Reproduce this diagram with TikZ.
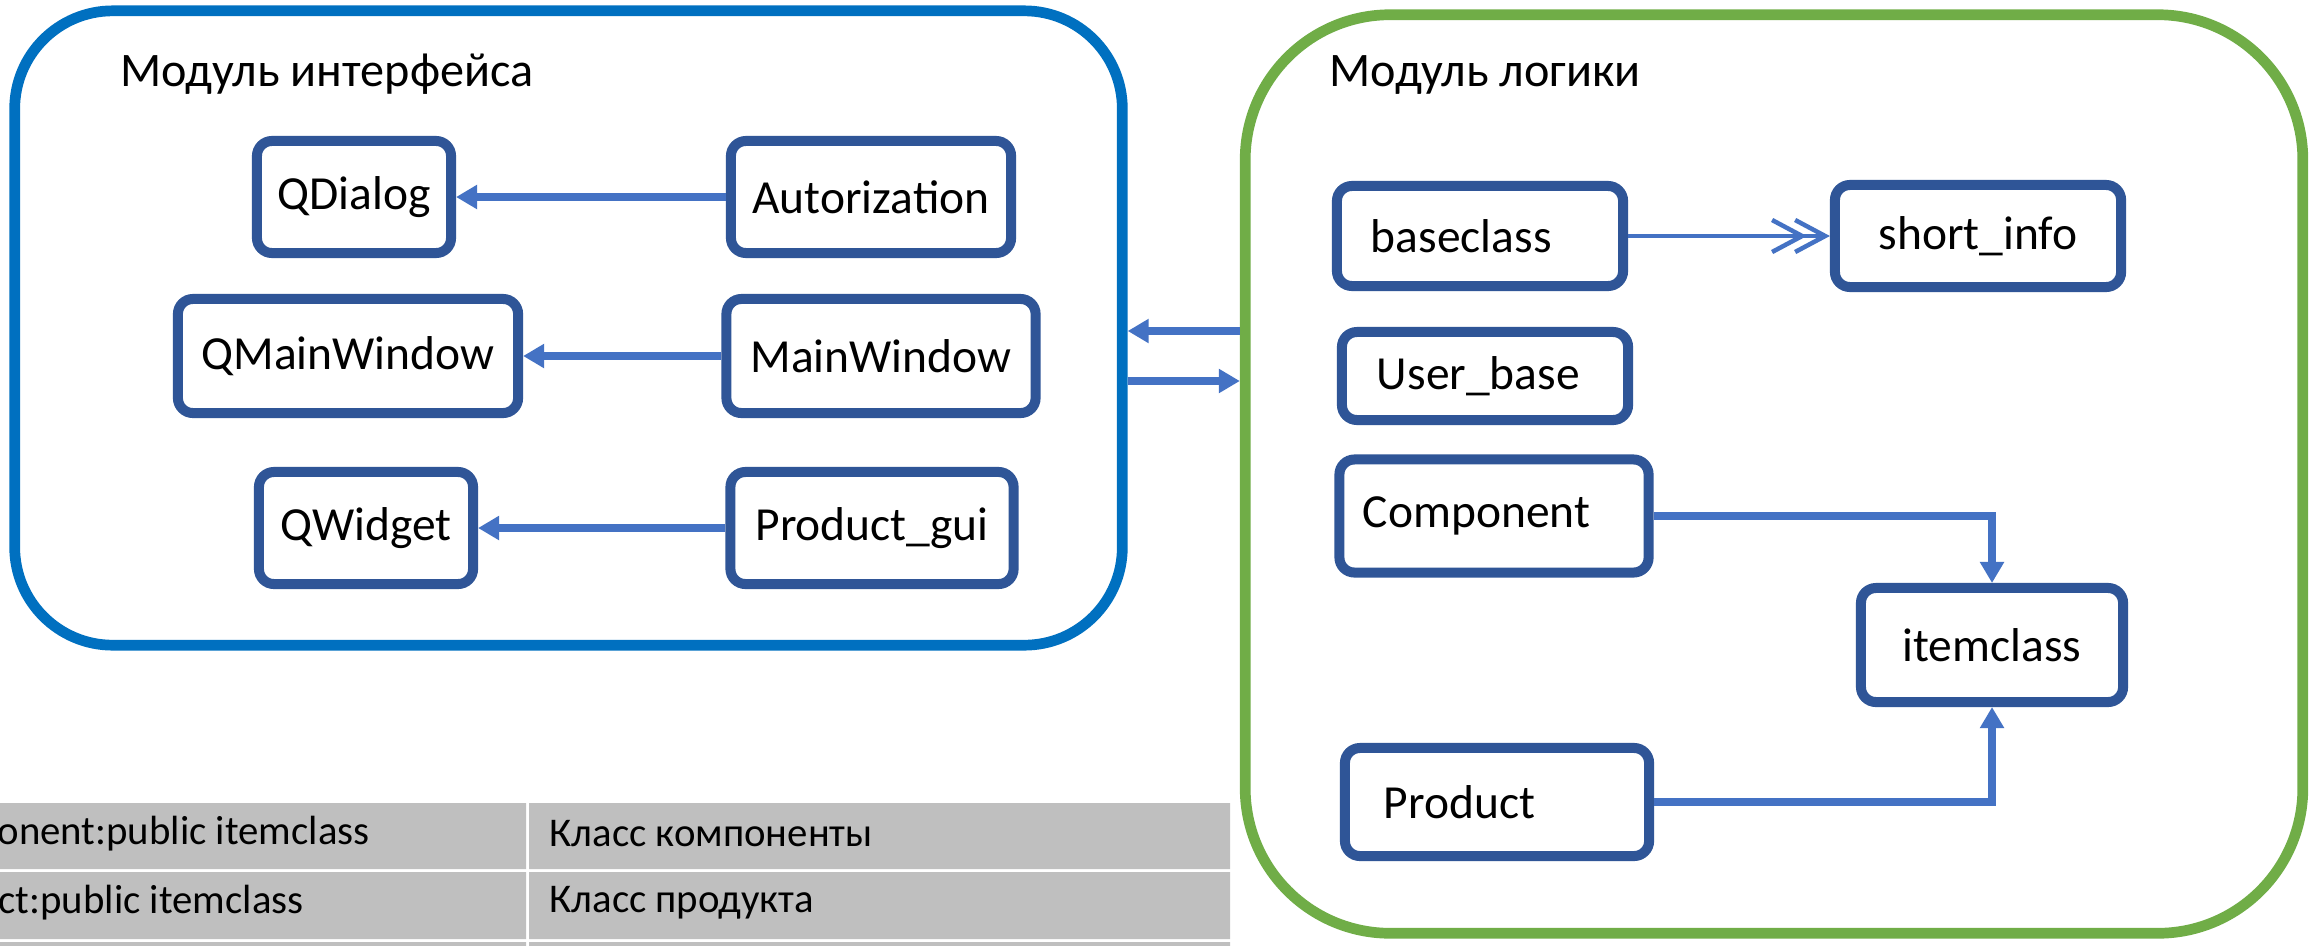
\documentclass[tikz,border=0pt]{standalone}
\usepackage{fontspec}
\setmainfont{Carlito}
\usetikzlibrary{arrows.meta, positioning}
\definecolor{ifblue}{RGB}{0,112,192}
\definecolor{loggreen}{RGB}{112,173,71}
\definecolor{boxblue}{RGB}{47,85,151}
\definecolor{arrblue}{RGB}{68,114,196}
\definecolor{cellgray}{RGB}{191,191,191}

\begin{document}
\begin{tikzpicture}[x=0.01cm, y=-0.01cm, >={Triangle[length=0.21cm, width=0.23cm]}, font=\fontsize{13.5}{16}\selectfont,
  box/.style={draw=boxblue, line width=0.1cm, rounded corners=0.15cm, fill=white, align=center, inner sep=0pt},
  lbox/.style={box, align=left, text width=#1},
  module/.style={draw, line width=0.107cm, fill=white},
  title/.style={anchor=base west, inner sep=0pt, font=\fontsize{13.7}{16}\selectfont},
  conn/.style={draw=arrblue, line width=0.08cm, ->},
  cell/.style={anchor=west, inner sep=0pt, font=\fontsize{11.6}{14}\selectfont}]
\useasboundingbox (0,0) rectangle (2316,945);

% modules
\node[module, draw=ifblue, rounded corners=0.98cm, minimum width=11.07cm, minimum height=6.34cm] (ifmod) at (568.5,328) {};
\node[module, draw=loggreen, rounded corners=1.45cm, minimum width=10.57cm, minimum height=9.18cm] (logmod) at (1774,474) {};
\node[title] (iftitle) at (120,86) {Модуль интерфейса};
\node[title] (logtitle) at (1329,86) {Модуль логики};

% interface classes
\node[box, minimum width=1.94cm, minimum height=1.12cm] (qdialog) at (354,197) {QDialog};
\node[box, minimum width=2.80cm, minimum height=1.12cm] (autoriz) at (871,197) {Autorization};
\node[box, minimum width=3.40cm, minimum height=1.14cm] (qmainwin) at (348,356) {QMainWindow};
\node[box, minimum width=3.09cm, minimum height=1.14cm] (mainwin) at (881,356) {MainWindow};
\node[box, minimum width=2.14cm, minimum height=1.12cm] (qwidget) at (366,528) {QWidget};
\node[box, minimum width=2.83cm, minimum height=1.12cm] (prodgui) at (872,528) {Product\_gui};

% logic classes
\node[lbox=2.18cm, minimum width=2.86cm, minimum height=1.00cm] (basecl) at (1480,236) {baseclass};
\node[box, minimum width=2.86cm, minimum height=1.02cm] (shortinf) at (1978,236) {short\_info};
\node[lbox=2.16cm, minimum width=2.86cm, minimum height=0.88cm] (userb) at (1485,376) {User\_base};
\node[lbox=2.62cm, minimum width=3.09cm, minimum height=1.13cm] (comp) at (1494,516) {Component};
\node[box, minimum width=2.62cm, minimum height=1.14cm] (item) at (1992,645) {itemclass};
\node[lbox=2.26cm, minimum width=3.04cm, minimum height=1.08cm] (prod) at (1497,802) {Product};

\draw[conn] (autoriz) -- (qdialog);
\draw[conn] (mainwin) -- (qmainwin);
\draw[conn] (prodgui) -- (qwidget);
\draw[conn] (logmod.west |- 0,331) -- (ifmod.east |- 0,331);
\draw[conn] (ifmod.east |- 0,381) -- (logmod.west |- 0,381);
\draw[draw=arrblue, line width=0.045cm, -{Straight Barb[length=0.3cm, width=0.32cm, sep=-0.14cm] Straight Barb[length=0.3cm, width=0.32cm]}] (basecl) -- (shortinf);
\draw[conn] (comp.east) -| (item.north);
\draw[conn] (prod.east) -| (item.south);

% table
\fill[cellgray] (-10,803) rectangle (526,869) (529,803) rectangle (1230,869);
\fill[cellgray] (-10,872) rectangle (526,939) (529,872) rectangle (1230,939);
\fill[cellgray] (-10,942) rectangle (526,960) (529,942) rectangle (1230,960);
\node[cell] (t11) at (-3,834) {onent:public itemclass};
\node[cell] (t12) at (549,834) {Класс компоненты};
\node[cell] (t21) at (-2,903) {ct:public itemclass};
\node[cell] (t22) at (549,903) {Класс продукта};
\end{tikzpicture}
\end{document}
